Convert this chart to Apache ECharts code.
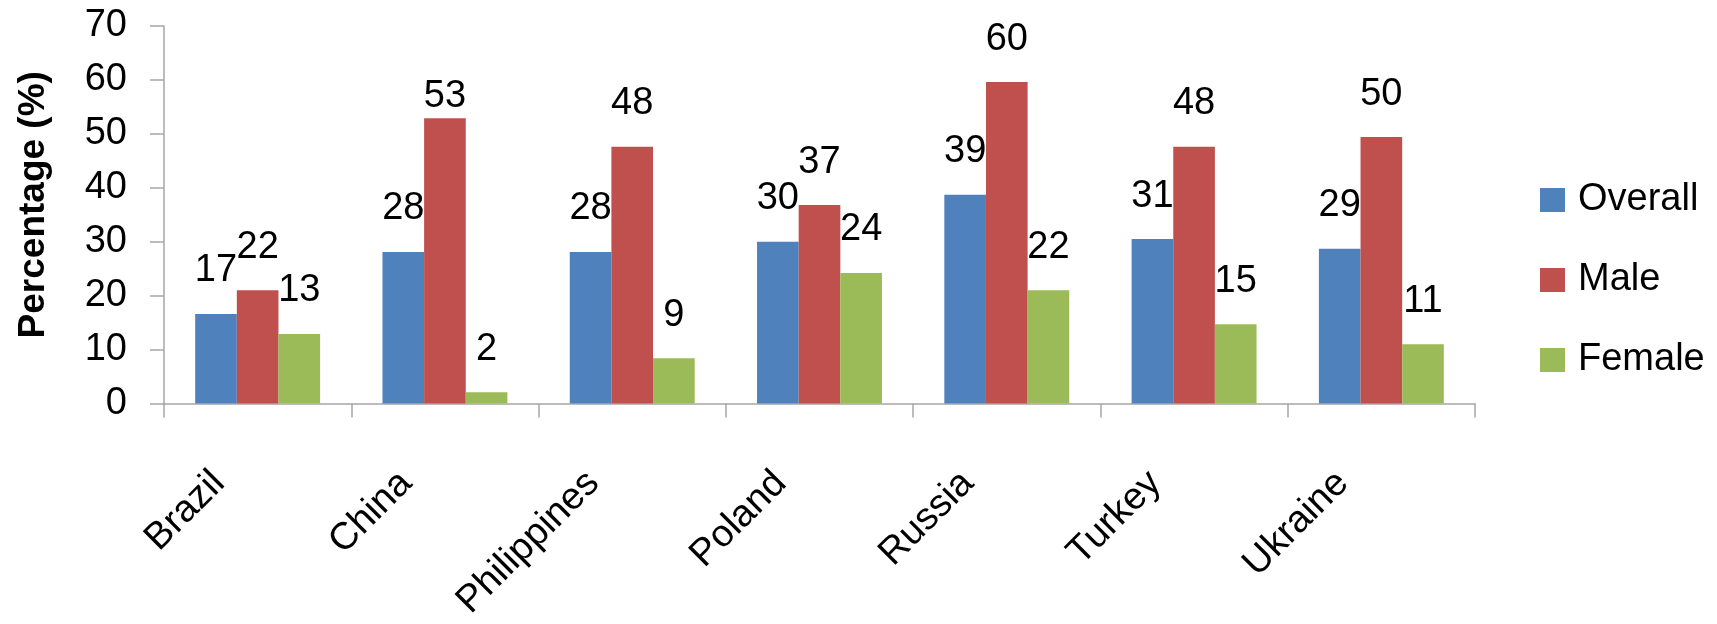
<!DOCTYPE html>
<html>
<head>
<meta charset="utf-8">
<script src="https://cdn.jsdelivr.net/npm/echarts@6/dist/echarts.min.js"></script>
<style>
html,body{margin:0;padding:0;background:#fff;}
#chart{width:1717px;height:624px;}
</style>
</head>
<body>
<div id="chart"></div>
<script>
const categories = ['Brazil', 'China', 'Philippines', 'Poland', 'Russia', 'Turkey', 'Ukraine'];
const overall = [16.6, 28.1, 28.1, 30.0, 38.7, 30.5, 28.7];
const male = [21.0, 52.9, 47.6, 36.8, 59.6, 47.6, 49.4];
const female = [12.9, 2.1, 8.4, 24.2, 21.0, 14.7, 11.0];
const overallLabels = ['17', '28', '28', '30', '39', '31', '29'];
const maleLabels = ['22', '53', '48', '37', '60', '48', '50'];
const femaleLabels = ['13', '2', '9', '24', '22', '15', '11'];
const seriesNames = ['Overall', 'Male', 'Female'];
const yMin = 0, yMax = 70, yStep = 10;

const FONT = 'Liberation Sans';
const FS = 38;
const colors = ['#4F81BD', '#C0504D', '#9BBB59'];
const axisGray = '#A6A6A6';
const labelDist = 24;
const distanceOverride = { 1: { 1: 3 } }; // series index -> data index -> distance

function makeSeries(name, values, labels, si) {
  return {
    name: name,
    type: 'bar',
    barGap: '0%',
    barCategoryGap: '33.3%',
    itemStyle: { color: colors[si] },
    data: values.map((v, i) => {
      const ov = distanceOverride[si] && distanceOverride[si][i];
      return ov !== undefined ? { value: v, label: { distance: ov } } : v;
    }),
    label: {
      show: true,
      position: 'top',
      distance: labelDist,
      fontFamily: FONT,
      fontSize: FS,
      lineHeight: FS,
      color: '#000',
      formatter: p => labels[p.dataIndex]
    }
  };
}

const chart = echarts.init(document.getElementById('chart'), null, { renderer: 'canvas' });
chart.setOption({
  animation: false,
  backgroundColor: '#fff',
  grid: { left: 164, right: 242, top: 26, bottom: 220.5, containLabel: false },
  legend: {
    orient: 'vertical',
    left: 1535,
    top: 176,
    itemWidth: 25,
    itemHeight: 24,
    itemGap: 42,
    icon: 'rect',
    data: seriesNames,
    textStyle: { fontFamily: FONT, fontSize: FS, lineHeight: FS, color: '#000', padding: [0, 0, 0, 8] }
  },
  xAxis: {
    type: 'category',
    data: categories,
    axisLine: { show: true, lineStyle: { color: axisGray, width: 1.5 } },
    axisTick: { show: true, length: 14, lineStyle: { color: axisGray, width: 1.5 } },
    axisLabel: {
      rotate: 45,
      interval: 0,
      margin: 35,
      fontFamily: FONT,
      fontSize: FS,
      color: '#000',
      padding: [0, 55, 0, 0]
    }
  },
  yAxis: {
    type: 'value',
    min: yMin,
    max: yMax,
    interval: yStep,
    name: 'Percentage (%)',
    nameLocation: 'middle',
    nameRotate: 90,
    nameGap: 112,
    nameTextStyle: { fontFamily: FONT, fontSize: 37, fontWeight: 'bold', color: '#000', padding: [0, 0, 0, 20] },
    axisLine: { show: true, lineStyle: { color: axisGray, width: 1.5 } },
    axisTick: { show: true, length: 14, lineStyle: { color: axisGray, width: 1.5 } },
    splitLine: { show: false },
    axisLabel: { margin: 37, fontFamily: FONT, fontSize: FS, color: '#000' }
  },
  series: [
    makeSeries(seriesNames[0], overall, overallLabels, 0),
    makeSeries(seriesNames[1], male, maleLabels, 1),
    makeSeries(seriesNames[2], female, femaleLabels, 2)
  ]
});
</script>
</body>
</html>
